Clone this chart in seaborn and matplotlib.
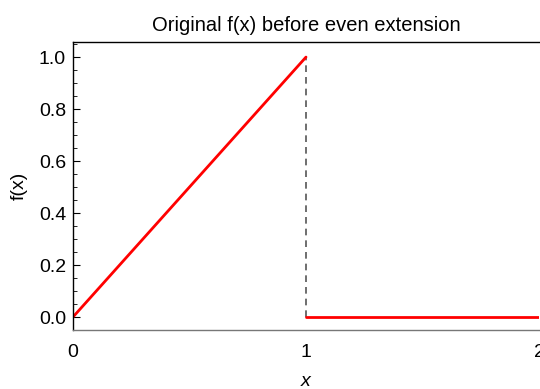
import matplotlib
matplotlib.use("Agg")
import matplotlib.pyplot as plt
import seaborn as sns
import numpy as np
from matplotlib.ticker import MultipleLocator

sns.set_theme(style="white")
plt.rcParams['font.family'] = ['Liberation Sans', 'DejaVu Sans']
plt.rcParams['text.color'] = 'black'
plt.rcParams['axes.labelcolor'] = 'black'
plt.rcParams['xtick.color'] = 'black'
plt.rcParams['ytick.color'] = 'black'

# Data
x_ramp = [0.0, 1.0]
y_ramp = [0.0, 1.0]
x_flat = [1.0, 2.0]
y_flat = [0.0, 0.0]
x_jump = [1.0, 1.0]
y_jump = [0.0, 1.0]
x_ticks = [0, 1, 2]
y_ticks = [0.0, 0.2, 0.4, 0.6, 0.8, 1.0]

fig = plt.figure(figsize=(5.4, 3.89), dpi=100)
ax = fig.add_axes([73/540, 1-330/389, (539-73)/540, (330-42)/389])

sns.lineplot(x=x_jump, y=y_jump, ax=ax, color="#555555", lw=1.2,
             linestyle=(0, (4, 3)), sort=False, estimator=None)
sns.lineplot(x=x_ramp, y=y_ramp, ax=ax, color="red", lw=2.0, estimator=None)
sns.lineplot(x=x_flat, y=y_flat, ax=ax, color="red", lw=2.0, estimator=None)

ax.set_xlim(0, 2)
ax.set_ylim(-0.05, 1.058)
ax.set_xticks(x_ticks)
ax.set_xticklabels([str(t) for t in x_ticks])
ax.set_yticks(y_ticks)
ax.set_yticklabels([f"{t:.1f}" for t in y_ticks])
ax.yaxis.set_minor_locator(MultipleLocator(0.05))

for s in ["left", "top"]:
    ax.spines[s].set_color("black")
    ax.spines[s].set_linewidth(1.0)
ax.spines["bottom"].set_color("#777777")
ax.spines["bottom"].set_linewidth(1.0)
ax.spines["right"].set_visible(False)

ax.tick_params(axis="y", which="major", direction="in", length=5, width=0.8,
               color="black", labelcolor="black", labelsize=14, pad=5, left=True)
ax.tick_params(axis="y", which="minor", direction="in", length=3, width=0.6,
               color="black", left=True)
ax.tick_params(axis="x", which="both", length=0, labelsize=14, pad=10,
               labelcolor="black")

ax.set_title("Original f(x) before even extension", fontsize=14.5, pad=8,
             color="black")
ax.set_xlabel("x", fontsize=14, style="italic", labelpad=9, color="black")
ax.set_ylabel("f(x)", fontsize=14, labelpad=8, color="black")

fig.savefig("out.png", dpi=100)
